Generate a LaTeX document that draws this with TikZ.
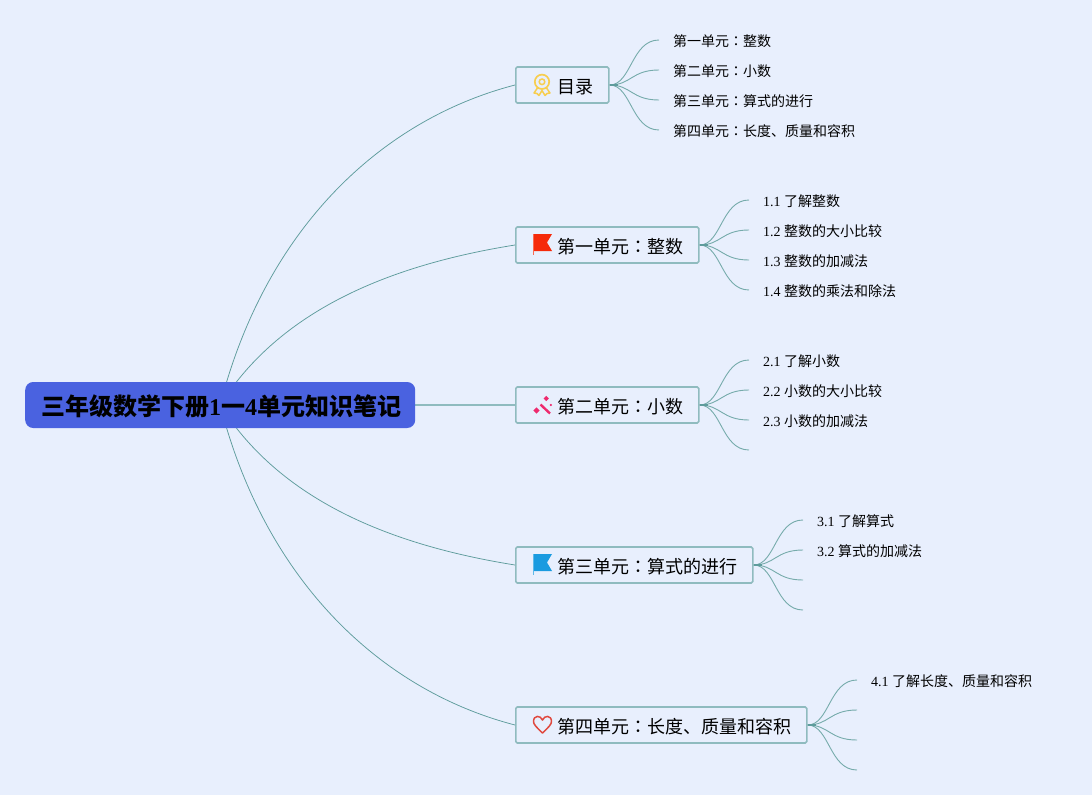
\documentclass[tikz,border=0pt]{standalone}
\usepackage{fontspec}
\setmainfont{Liberation Serif}
\newfontfamily\cjk{Noto Sans CJK SC}
\newfontfamily\cjkjp{Noto Sans CJK JP}
\usetikzlibrary{backgrounds,calc}
\definecolor{bgc}{HTML}{E8EFFD}
\definecolor{linec}{HTML}{5E9C9C}
\definecolor{boxc}{HTML}{8FBBBF}
\definecolor{rootc}{HTML}{4A62E0}
\definecolor{gold}{HTML}{F7CE50}
\definecolor{wandc}{HTML}{EE2A6E}
\definecolor{flagr}{HTML}{F52A0A}
\definecolor{flagb}{HTML}{1A9BE0}
\definecolor{heartc}{HTML}{E0483E}
\newcommand{\cln}{{\cjkjp ：}}
\newcommand{\pad}[1]{\rule{#1pt}{0pt}}
\tikzset{
  x=1pt,y=-1pt,
  rootbox/.style={draw=none,fill=rootc,rounded corners=8pt,minimum width=390pt,minimum height=46pt,inner sep=0pt,anchor=west,text height=21.2pt,text depth=0pt,font=\fontsize{24}{28}\selectfont\bfseries},
  topic/.style={draw=boxc,line width=1.6pt,fill=bgc,rounded corners=1.5pt,minimum height=36pt,inner sep=0pt,anchor=west,text height=16.6pt,text depth=0pt,font=\fontsize{18}{22}\selectfont\cjk},
  leaf/.style={inner xsep=14pt,inner ysep=1pt,anchor=west,text height=13pt,text depth=0pt,font=\fontsize{14}{17}\selectfont},
  main/.style={draw=linec,line width=0.75pt},
  straight/.style={draw=boxc,line width=1.3pt},
  twig/.style={draw=linec!85!white,line width=0.9pt},
  stub/.style={draw=linec,line width=2pt},
}
\begin{document}
\begin{tikzpicture}
\useasboundingbox (0,0) rectangle (1092,795);
\node[rootbox] (root) at (25,405) {\pad{16}{\cjk\bfseries 三年级数学下册}1{\cjk\bfseries 一}4{\cjk\bfseries 单元知识笔记}\pad{14}};
\node[topic] (t0) at (515,85) {\pad{42}目录\pad{15}};
\node[topic] (t1) at (515,245) {\pad{42}第一单元\cln 整数\pad{15}};
\node[topic] (t2) at (515,405) {\pad{42}第二单元\cln 小数\pad{15}};
\node[topic] (t3) at (515,565) {\pad{42}第三单元\cln 算式的进行\pad{15}};
\node[topic] (t4) at (515,725) {\pad{42}第四单元\cln 长度、质量和容积\pad{15}};
\node[leaf] (a1) at (659,40) {{\cjk 第一单元}\cln{\cjk 整数}};
\node[leaf] (a2) at (659,70) {{\cjk 第二单元}\cln{\cjk 小数}};
\node[leaf] (a3) at (659,100) {{\cjk 第三单元}\cln{\cjk 算式的进行}};
\node[leaf] (a4) at (659,130) {{\cjk 第四单元}\cln{\cjk 长度、质量和容积}};
\node[leaf] (b1) at (749,200) {1.1 {\cjk 了解整数}};
\node[leaf] (b2) at (749,230) {1.2 {\cjk 整数的大小比较}};
\node[leaf] (b3) at (749,260) {1.3 {\cjk 整数的加减法}};
\node[leaf] (b4) at (749,290) {1.4 {\cjk 整数的乘法和除法}};
\node[leaf] (c1) at (749,360) {2.1 {\cjk 了解小数}};
\node[leaf] (c2) at (749,390) {2.2 {\cjk 小数的大小比较}};
\node[leaf] (c3) at (749,420) {2.3 {\cjk 小数的加减法}};
\coordinate (c4) at (749,450);
\node[leaf] (d1) at (803,520) {3.1 {\cjk 了解算式}};
\node[leaf] (d2) at (803,550) {3.2 {\cjk 算式的加减法}};
\coordinate (d3) at (803,580);
\coordinate (d4) at (803,610);
\node[leaf] (e1) at (857,680) {4.1 {\cjk 了解长度、质量和容积}};
\coordinate (e2) at (857,710);
\coordinate (e3) at (857,740);
\coordinate (e4) at (857,770);
\begin{scope}[on background layer]
\fill[bgc] (0,0) rectangle (1092,795);
\path[main] (root.center) .. controls (265,230) and (380,120) .. (t0.west);
\path[main] (root.center) .. controls (280,310) and (390,265) .. (t1.west);
\path[straight] (root.east) -- (t2.west);
\path[main] (root.center) .. controls (280,500) and (390,545) .. (t3.west);
\path[main] (root.center) .. controls (265,580) and (380,690) .. (t4.west);
\end{scope}
\foreach \t/\ends in {t0/{a1.west,a2.west,a3.west,a4.west},t1/{b1.west,b2.west,b3.west,b4.west},t2/{c1.west,c2.west,c3.west,c4},t3/{d1.west,d2.west,d3,d4},t4/{e1.west,e2,e3,e4}}{
  \foreach \e in \ends {
    \draw[twig] (\t.east) .. controls ($(\t.east)!0.44!(\t.east-|\e)$) and ($(\e-|\t.east)!0.44!(\e)$) .. (\e);
  }
  \draw[stub] (\t.east) -- ++(8,0);
}
% icon: rosette
\begin{scope}[shift={(542,85)}]
  \draw[gold,line width=1.7pt] (0,-3.2) circle[radius=7.2];
  \draw[gold,line width=1.5pt] (0,-3.2) circle[radius=2.8];
  \draw[gold,line width=1.5pt,line join=round] (-4.5,3) -- (-8,8) -- (-5,8.5) -- (-3,10.5) -- (0,5.5) -- (3,10.5) -- (5,8.5) -- (8,8) -- (4.5,3);
\end{scope}
% icon: red flag
\fill[flagr!70!white] (533,234) rectangle (534,255);
\fill[flagr] (534,234) -- (552,234) -- (547,242.5) -- (552,251) -- (534,251) -- cycle;
% icon: wand
\draw[wandc,line width=2.4pt] (540.5,404.5) -- (550,413.5);
\foreach \px/\py/\r in {536.5/410.5/3.2,546.3/398.5/2.6,550.8/405/1.2}{
  \fill[wandc] (\px-\r,\py) -- (\px,\py-\r) -- (\px+\r,\py) -- (\px,\py+\r) -- cycle;
}
% icon: blue flag
\fill[flagb!70!white] (533,554) rectangle (534,575);
\fill[flagb] (534,554) -- (552,554) -- (547,562.5) -- (552,571) -- (534,571) -- cycle;
% icon: heart
\draw[heartc,line width=1.5pt,line join=round] (542.5,733) .. controls (536,727) and (533.5,724) .. (533.5,721.5) .. controls (533.5,715) and (540.5,715) .. (542.5,720) .. controls (544.5,715) and (551.5,715) .. (551.5,721.5) .. controls (551.5,724) and (549,727) .. (542.5,733) -- cycle;
\end{tikzpicture}
\end{document}
